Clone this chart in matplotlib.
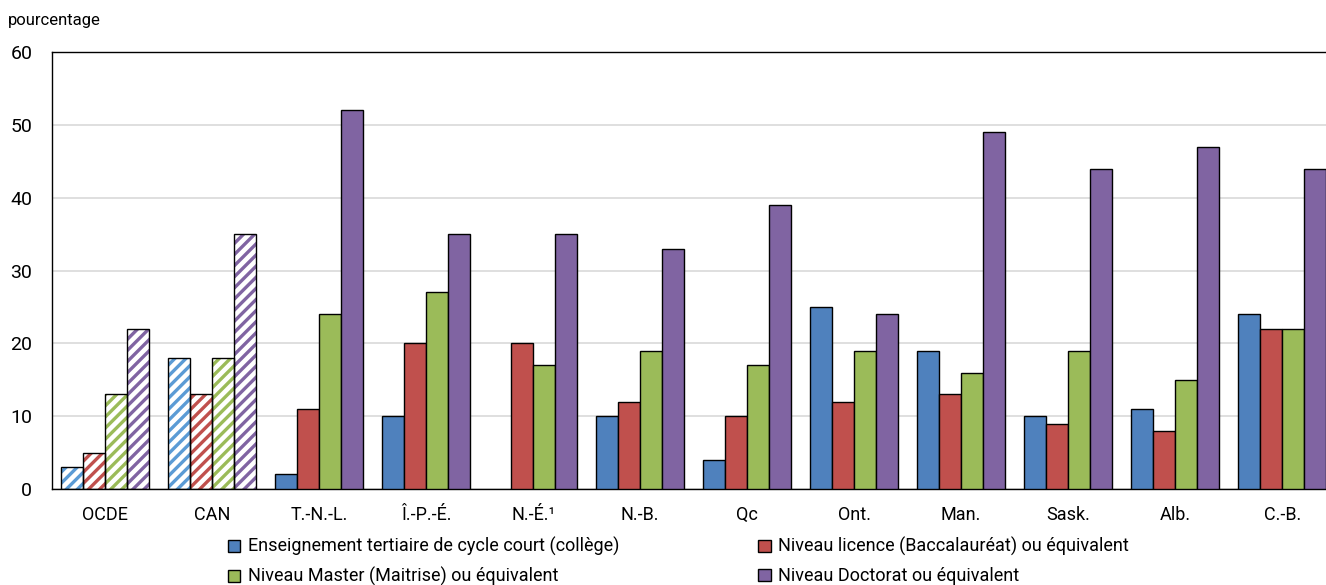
import matplotlib
matplotlib.use("Agg")
import matplotlib.pyplot as plt
import numpy as np
from matplotlib.patches import Patch
from matplotlib import font_manager

names = {f.name for f in font_manager.fontManager.ttflist}
fam = ['Liberation Sans Narrow', 'DejaVu Sans'] if 'Liberation Sans Narrow' in names else ['Roboto', 'DejaVu Sans']
plt.rcParams['font.family'] = fam
plt.rcParams['hatch.linewidth'] = 2.4

categories = ["OCDE", "CAN", "T.-N.-L.", "Î.-P.-É.", "N.-É.¹", "N.-B.", "Qc", "Ont.", "Man.", "Sask.", "Alb.", "C.-B."]
college = [3, 18, 2, 10, np.nan, 10, 4, 25, 19, 10, 11, 24]
licence = [5, 13, 11, 20, 20, 12, 10, 12, 13, 9, 8, 22]
master = [13, 18, 24, 27, 17, 19, 17, 19, 16, 19, 15, 22]
doctorat = [22, 35, 52, 35, 35, 33, 39, 24, 49, 44, 47, 44]
series_labels = ["Enseignement tertiaire de cycle court (collège)",
                 "Niveau licence (Baccalauréat) ou équivalent",
                 "Niveau Master (Maitrise) ou équivalent",
                 "Niveau Doctorat ou équivalent"]
yticks = [0, 10, 20, 30, 40, 50, 60]

colors = ["#4F81BD", "#C0504D", "#9BBB59", "#8064A2"]
hatch_colors = ["#5B9BD5", "#C0504D", "#9BBB59", "#8064A2"]
n_hatched = 2

fig = plt.figure(figsize=(13.26, 5.85), dpi=100)
ax = fig.add_axes([0.039, 0.164, 0.961, 0.747])

x = np.arange(len(categories))
w = 0.206
series = [college, licence, master, doctorat]
for i, vals in enumerate(series):
    vals = np.array(vals, dtype=float)
    pos = x + (i - 1.5) * w
    ax.bar(pos[:n_hatched], vals[:n_hatched], w, facecolor="white",
           edgecolor=hatch_colors[i], hatch="///", linewidth=0, zorder=2)
    ax.bar(pos[:n_hatched], vals[:n_hatched], w, fill=False,
           edgecolor="black", linewidth=1.0, zorder=3)
    ax.bar(pos[n_hatched:], vals[n_hatched:], w, color=colors[i],
           edgecolor="black", linewidth=1.0, zorder=3)

ax.set_xlim(-0.5, 11.41)
ax.set_ylim(0, 60)
ax.set_yticks(yticks)
ax.set_xticks(x)
ax.set_xticklabels(categories)
ax.tick_params(axis='both', length=0, labelsize=13)
ax.tick_params(axis='y', labelsize=14)
ax.tick_params(axis='x', pad=12)
ax.tick_params(axis='y', pad=14)
ax.yaxis.grid(True, color="#d9d9d9", linewidth=1.2, zorder=0)
ax.set_axisbelow(True)
for s in ["left", "bottom", "top"]:
    ax.spines[s].set_color("black")
    ax.spines[s].set_linewidth(1.0)
ax.spines["right"].set_visible(False)

fig.text(0.006, 0.965, "pourcentage", fontsize=12, ha="left", va="center")

handles = [Patch(facecolor=colors[0], edgecolor="black", label=series_labels[0]),
           Patch(facecolor=colors[2], edgecolor="black", label=series_labels[2]),
           Patch(facecolor=colors[1], edgecolor="black", label=series_labels[1]),
           Patch(facecolor=colors[3], edgecolor="black", label=series_labels[3])]
fig.legend(handles=handles, ncol=2, loc="upper left", bbox_to_anchor=(0.165, 0.097),
           frameon=False, fontsize=13, handlelength=0.7, handleheight=0.7,
           handletextpad=0.4, columnspacing=7.7, labelspacing=0.6, borderpad=0)

fig.savefig("out.png", dpi=100)
